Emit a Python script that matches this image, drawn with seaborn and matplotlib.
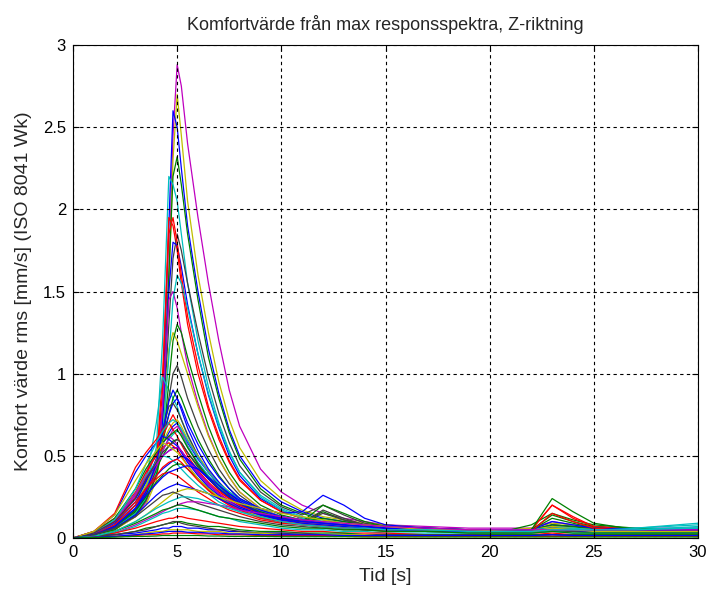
import matplotlib
matplotlib.use("Agg")
import matplotlib.pyplot as plt
import seaborn as sns
import pandas as pd

sns.set_style("white")
plt.rcParams['font.family'] = ['Liberation Sans', 'DejaVu Sans']

# time samples [s]
T = [0, 1, 2, 3, 3.5, 4, 4.3, 4.6, 4.8, 5.0, 5.2, 5.5, 6, 6.5, 7, 7.5, 8, 9, 10, 11,
     12, 13, 14, 15, 17, 19, 21, 22, 23, 24, 25, 27, 30]

# high-peak curves
h01 = [0, 0.03, 0.08, 0.18, 0.28, 0.45, 0.75, 1.6, 2.45, 2.88, 2.75, 2.4, 1.95, 1.55, 1.2, 0.9, 0.68, 0.42, 0.28, 0.2, 0.15, 0.12, 0.1, 0.08, 0.07, 0.06, 0.06, 0.06, 0.1, 0.08, 0.07, 0.06, 0.06]
h02 = [0, 0.03, 0.07, 0.16, 0.25, 0.42, 0.7, 1.5, 2.3, 2.7, 2.45, 2.05, 1.6, 1.25, 0.95, 0.72, 0.55, 0.35, 0.24, 0.17, 0.13, 0.11, 0.09, 0.08, 0.06, 0.05, 0.05, 0.06, 0.09, 0.08, 0.06, 0.05, 0.05]
h03 = [0, 0.02, 0.07, 0.17, 0.27, 0.45, 0.8, 1.9, 2.6, 2.5, 2.25, 1.9, 1.5, 1.15, 0.88, 0.66, 0.5, 0.32, 0.22, 0.16, 0.12, 0.1, 0.08, 0.07, 0.06, 0.05, 0.05, 0.05, 0.08, 0.07, 0.06, 0.05, 0.05]
h04 = [0, 0.02, 0.06, 0.15, 0.24, 0.4, 0.65, 1.6, 2.2, 2.32, 2.15, 1.85, 1.45, 1.1, 0.85, 0.64, 0.48, 0.3, 0.2, 0.15, 0.11, 0.09, 0.08, 0.07, 0.06, 0.05, 0.05, 0.08, 0.15, 0.11, 0.08, 0.06, 0.05]
h05 = [0, 0.03, 0.08, 0.2, 0.32, 0.55, 1.2, 2.2, 2.15, 2.05, 1.85, 1.55, 1.2, 0.92, 0.7, 0.53, 0.4, 0.26, 0.18, 0.13, 0.1, 0.08, 0.07, 0.06, 0.05, 0.05, 0.05, 0.05, 0.07, 0.06, 0.05, 0.05, 0.06]
h06 = [0, 0.02, 0.06, 0.15, 0.25, 0.42, 0.9, 1.95, 1.9, 1.75, 1.55, 1.3, 1.0, 0.78, 0.6, 0.46, 0.35, 0.23, 0.16, 0.12, 0.09, 0.07, 0.06, 0.05, 0.05, 0.04, 0.04, 0.05, 0.2, 0.12, 0.07, 0.05, 0.04]
h07 = [0, 0.02, 0.06, 0.15, 0.24, 0.4, 0.65, 1.3, 1.7, 1.85, 1.75, 1.55, 1.25, 0.98, 0.76, 0.58, 0.44, 0.28, 0.19, 0.14, 0.2, 0.14, 0.09, 0.07, 0.06, 0.05, 0.05, 0.05, 0.08, 0.07, 0.06, 0.05, 0.05]
h08 = [0, 0.02, 0.05, 0.14, 0.22, 0.38, 0.7, 1.5, 1.8, 1.78, 1.65, 1.42, 1.12, 0.87, 0.67, 0.5, 0.38, 0.24, 0.17, 0.12, 0.09, 0.08, 0.07, 0.06, 0.05, 0.05, 0.04, 0.05, 0.07, 0.06, 0.05, 0.05, 0.05]
h09 = [0, 0.02, 0.06, 0.16, 0.26, 0.45, 1.0, 1.85, 1.95, 1.8, 1.6, 1.35, 1.05, 0.8, 0.62, 0.47, 0.36, 0.23, 0.16, 0.12, 0.09, 0.07, 0.06, 0.05, 0.05, 0.04, 0.04, 0.04, 0.06, 0.05, 0.05, 0.04, 0.04]
h10 = [0, 0.02, 0.05, 0.13, 0.22, 0.38, 0.8, 1.45, 1.5, 1.4, 1.25, 1.05, 0.82, 0.63, 0.48, 0.37, 0.28, 0.18, 0.13, 0.1, 0.08, 0.07, 0.06, 0.05, 0.05, 0.04, 0.04, 0.04, 0.06, 0.05, 0.04, 0.04, 0.04]
h11 = [0, 0.02, 0.05, 0.13, 0.2, 0.35, 0.6, 1.15, 1.25, 1.2, 1.12, 1.0, 0.8, 0.62, 0.48, 0.37, 0.28, 0.18, 0.13, 0.1, 0.08, 0.07, 0.06, 0.05, 0.04, 0.04, 0.04, 0.04, 0.06, 0.05, 0.04, 0.04, 0.04]
h12 = [0, 0.03, 0.08, 0.2, 0.35, 0.7, 0.98, 0.9, 0.85, 0.8, 0.72, 0.62, 0.5, 0.4, 0.32, 0.25, 0.2, 0.14, 0.1, 0.08, 0.07, 0.06, 0.05, 0.05, 0.04, 0.04, 0.04, 0.04, 0.05, 0.05, 0.04, 0.04, 0.05]
h13 = [0, 0.02, 0.06, 0.15, 0.25, 0.4, 0.6, 0.85, 1.0, 1.05, 0.98, 0.85, 0.68, 0.54, 0.42, 0.33, 0.26, 0.17, 0.12, 0.09, 0.08, 0.07, 0.06, 0.05, 0.05, 0.04, 0.04, 0.04, 0.05, 0.05, 0.04, 0.04, 0.04]
h14 = [0, 0.02, 0.06, 0.16, 0.26, 0.42, 0.58, 0.75, 0.85, 0.9, 0.85, 0.75, 0.6, 0.48, 0.38, 0.3, 0.24, 0.16, 0.12, 0.1, 0.16, 0.11, 0.08, 0.06, 0.05, 0.04, 0.04, 0.05, 0.14, 0.1, 0.07, 0.05, 0.04]
h15 = [0, 0.02, 0.07, 0.18, 0.3, 0.48, 0.62, 0.75, 0.82, 0.85, 0.8, 0.7, 0.57, 0.46, 0.37, 0.3, 0.24, 0.17, 0.13, 0.11, 0.09, 0.08, 0.07, 0.06, 0.05, 0.05, 0.04, 0.05, 0.07, 0.06, 0.05, 0.05, 0.05]
h16 = [0, 0.02, 0.06, 0.15, 0.24, 0.4, 0.62, 1.1, 1.45, 1.6, 1.55, 1.4, 1.12, 0.88, 0.68, 0.52, 0.4, 0.25, 0.17, 0.12, 0.1, 0.08, 0.07, 0.06, 0.05, 0.05, 0.04, 0.05, 0.07, 0.06, 0.05, 0.05, 0.06]
h17 = [0, 0.02, 0.05, 0.14, 0.23, 0.38, 0.55, 0.95, 1.2, 1.3, 1.25, 1.1, 0.88, 0.68, 0.52, 0.4, 0.31, 0.2, 0.14, 0.11, 0.09, 0.07, 0.06, 0.05, 0.05, 0.04, 0.04, 0.04, 0.06, 0.05, 0.05, 0.04, 0.04]

# medium curves
m01 = [0, 0.03, 0.1, 0.25, 0.38, 0.52, 0.62, 0.7, 0.75, 0.7, 0.64, 0.56, 0.45, 0.36, 0.29, 0.24, 0.2, 0.15, 0.12, 0.1, 0.08, 0.07, 0.06, 0.05, 0.04, 0.04, 0.03, 0.04, 0.05, 0.05, 0.04, 0.03, 0.03]
m02 = [0, 0.03, 0.09, 0.22, 0.34, 0.48, 0.57, 0.64, 0.68, 0.7, 0.66, 0.58, 0.48, 0.4, 0.33, 0.28, 0.24, 0.18, 0.15, 0.16, 0.26, 0.2, 0.12, 0.08, 0.06, 0.05, 0.05, 0.05, 0.06, 0.05, 0.05, 0.04, 0.04]
m03 = [0, 0.02, 0.08, 0.2, 0.31, 0.45, 0.53, 0.6, 0.63, 0.65, 0.63, 0.56, 0.46, 0.38, 0.31, 0.26, 0.22, 0.16, 0.12, 0.1, 0.08, 0.07, 0.06, 0.05, 0.05, 0.04, 0.04, 0.04, 0.05, 0.05, 0.05, 0.05, 0.07]
m04 = [0, 0.03, 0.1, 0.26, 0.4, 0.52, 0.58, 0.62, 0.6, 0.57, 0.53, 0.47, 0.39, 0.32, 0.27, 0.23, 0.19, 0.14, 0.11, 0.09, 0.08, 0.07, 0.06, 0.05, 0.05, 0.04, 0.04, 0.04, 0.05, 0.05, 0.04, 0.04, 0.05]
m05 = [0, 0.02, 0.07, 0.18, 0.28, 0.42, 0.5, 0.56, 0.59, 0.6, 0.58, 0.52, 0.43, 0.36, 0.3, 0.25, 0.21, 0.15, 0.12, 0.1, 0.2, 0.15, 0.1, 0.07, 0.05, 0.04, 0.04, 0.05, 0.08, 0.07, 0.05, 0.04, 0.04]
m06 = [0, 0.02, 0.07, 0.17, 0.27, 0.45, 0.65, 0.8, 0.82, 0.78, 0.72, 0.63, 0.5, 0.4, 0.32, 0.26, 0.21, 0.15, 0.11, 0.09, 0.17, 0.12, 0.08, 0.06, 0.05, 0.04, 0.04, 0.04, 0.05, 0.05, 0.04, 0.04, 0.04]
m07 = [0, 0.02, 0.08, 0.2, 0.32, 0.47, 0.58, 0.66, 0.7, 0.72, 0.68, 0.6, 0.5, 0.41, 0.34, 0.28, 0.23, 0.17, 0.13, 0.11, 0.09, 0.08, 0.07, 0.06, 0.05, 0.05, 0.04, 0.05, 0.07, 0.06, 0.05, 0.05, 0.05]
m08 = [0, 0.03, 0.1, 0.24, 0.35, 0.45, 0.5, 0.53, 0.55, 0.55, 0.53, 0.48, 0.4, 0.33, 0.27, 0.22, 0.18, 0.13, 0.1, 0.09, 0.08, 0.07, 0.06, 0.05, 0.04, 0.04, 0.04, 0.04, 0.05, 0.04, 0.04, 0.04, 0.04]
m09 = [0, 0.04, 0.12, 0.28, 0.4, 0.5, 0.55, 0.58, 0.56, 0.54, 0.5, 0.44, 0.36, 0.29, 0.24, 0.2, 0.17, 0.13, 0.1, 0.09, 0.08, 0.07, 0.06, 0.05, 0.05, 0.04, 0.04, 0.05, 0.2, 0.13, 0.07, 0.05, 0.04]
m10 = [0, 0.03, 0.11, 0.27, 0.38, 0.46, 0.5, 0.49, 0.47, 0.45, 0.42, 0.38, 0.32, 0.27, 0.22, 0.19, 0.16, 0.12, 0.09, 0.08, 0.07, 0.06, 0.05, 0.05, 0.04, 0.04, 0.04, 0.04, 0.05, 0.05, 0.05, 0.06, 0.09]
m11 = [0, 0.02, 0.07, 0.18, 0.28, 0.43, 0.53, 0.61, 0.66, 0.68, 0.65, 0.59, 0.49, 0.4, 0.33, 0.27, 0.22, 0.16, 0.12, 0.1, 0.08, 0.07, 0.06, 0.05, 0.05, 0.04, 0.04, 0.04, 0.06, 0.05, 0.05, 0.04, 0.05]
m12 = [0, 0.02, 0.07, 0.18, 0.28, 0.45, 0.65, 0.83, 0.9, 0.85, 0.78, 0.67, 0.53, 0.42, 0.34, 0.27, 0.22, 0.15, 0.11, 0.09, 0.07, 0.06, 0.05, 0.05, 0.04, 0.04, 0.04, 0.04, 0.05, 0.05, 0.04, 0.04, 0.04]
m13 = [0, 0.02, 0.07, 0.17, 0.25, 0.34, 0.38, 0.42, 0.44, 0.45, 0.45, 0.42, 0.36, 0.3, 0.25, 0.21, 0.18, 0.13, 0.1, 0.09, 0.08, 0.07, 0.06, 0.05, 0.04, 0.04, 0.04, 0.05, 0.24, 0.16, 0.09, 0.05, 0.04]
m14 = [0, 0.03, 0.1, 0.22, 0.3, 0.36, 0.39, 0.4, 0.39, 0.38, 0.36, 0.33, 0.28, 0.24, 0.2, 0.17, 0.15, 0.11, 0.09, 0.08, 0.07, 0.06, 0.05, 0.05, 0.04, 0.04, 0.03, 0.04, 0.05, 0.04, 0.04, 0.03, 0.03]
n01 = [0, 0.04, 0.14, 0.4, 0.5, 0.58, 0.62, 0.6, 0.58, 0.56, 0.52, 0.46, 0.38, 0.31, 0.26, 0.22, 0.19, 0.14, 0.11, 0.1, 0.09, 0.08, 0.07, 0.06, 0.05, 0.05, 0.04, 0.05, 0.06, 0.05, 0.05, 0.05, 0.05]
n02 = [0, 0.04, 0.15, 0.43, 0.52, 0.6, 0.66, 0.7, 0.66, 0.62, 0.57, 0.5, 0.41, 0.34, 0.28, 0.24, 0.2, 0.15, 0.12, 0.1, 0.09, 0.08, 0.07, 0.06, 0.05, 0.05, 0.04, 0.04, 0.06, 0.05, 0.05, 0.04, 0.04]
n03 = [0, 0.03, 0.12, 0.3, 0.42, 0.52, 0.58, 0.62, 0.64, 0.66, 0.62, 0.55, 0.45, 0.37, 0.3, 0.25, 0.21, 0.16, 0.12, 0.1, 0.12, 0.1, 0.08, 0.06, 0.05, 0.04, 0.04, 0.05, 0.12, 0.09, 0.06, 0.05, 0.04]
n04 = [0, 0.03, 0.11, 0.3, 0.45, 0.58, 0.65, 0.7, 0.72, 0.7, 0.66, 0.59, 0.49, 0.4, 0.33, 0.28, 0.23, 0.17, 0.13, 0.11, 0.09, 0.08, 0.07, 0.06, 0.05, 0.05, 0.05, 0.05, 0.06, 0.06, 0.05, 0.06, 0.08]
n05 = [0, 0.03, 0.1, 0.27, 0.37, 0.45, 0.5, 0.53, 0.54, 0.55, 0.53, 0.48, 0.4, 0.33, 0.27, 0.22, 0.18, 0.13, 0.1, 0.09, 0.08, 0.07, 0.06, 0.05, 0.05, 0.04, 0.04, 0.04, 0.05, 0.05, 0.04, 0.04, 0.04]
n06 = [0, 0.03, 0.1, 0.24, 0.36, 0.46, 0.52, 0.56, 0.58, 0.6, 0.58, 0.52, 0.44, 0.36, 0.3, 0.25, 0.21, 0.15, 0.12, 0.1, 0.15, 0.11, 0.08, 0.06, 0.05, 0.04, 0.04, 0.04, 0.05, 0.05, 0.04, 0.04, 0.04]
n07 = [0, 0.04, 0.14, 0.35, 0.45, 0.53, 0.58, 0.56, 0.54, 0.52, 0.49, 0.44, 0.36, 0.3, 0.25, 0.21, 0.18, 0.13, 0.1, 0.09, 0.08, 0.07, 0.06, 0.05, 0.05, 0.04, 0.04, 0.04, 0.06, 0.05, 0.04, 0.04, 0.04]
n08 = [0, 0.02, 0.08, 0.2, 0.3, 0.38, 0.42, 0.45, 0.47, 0.48, 0.5, 0.48, 0.42, 0.36, 0.3, 0.25, 0.21, 0.15, 0.12, 0.1, 0.09, 0.08, 0.07, 0.06, 0.05, 0.05, 0.04, 0.05, 0.1, 0.08, 0.06, 0.05, 0.04]
n09 = [0, 0.02, 0.08, 0.2, 0.3, 0.38, 0.43, 0.46, 0.47, 0.48, 0.46, 0.42, 0.35, 0.29, 0.24, 0.2, 0.17, 0.12, 0.1, 0.08, 0.07, 0.06, 0.05, 0.05, 0.04, 0.04, 0.04, 0.04, 0.15, 0.1, 0.06, 0.04, 0.04]
n10 = [0, 0.02, 0.07, 0.18, 0.26, 0.33, 0.37, 0.4, 0.41, 0.42, 0.43, 0.44, 0.42, 0.37, 0.32, 0.27, 0.23, 0.17, 0.13, 0.11, 0.09, 0.08, 0.07, 0.06, 0.05, 0.05, 0.04, 0.04, 0.05, 0.05, 0.04, 0.04, 0.04]

# low / broad curves
l01 = [0, 0.02, 0.06, 0.14, 0.2, 0.26, 0.29, 0.31, 0.32, 0.33, 0.32, 0.31, 0.29, 0.27, 0.24, 0.21, 0.18, 0.14, 0.11, 0.09, 0.08, 0.07, 0.06, 0.05, 0.04, 0.04, 0.04, 0.04, 0.05, 0.04, 0.04, 0.04, 0.04]
l02 = [0, 0.01, 0.04, 0.1, 0.14, 0.19, 0.22, 0.25, 0.27, 0.28, 0.29, 0.3, 0.29, 0.27, 0.25, 0.23, 0.21, 0.18, 0.15, 0.13, 0.11, 0.09, 0.08, 0.07, 0.05, 0.05, 0.04, 0.04, 0.05, 0.05, 0.04, 0.04, 0.04]
l03 = [0, 0.02, 0.06, 0.13, 0.18, 0.23, 0.26, 0.27, 0.28, 0.27, 0.26, 0.24, 0.21, 0.19, 0.17, 0.15, 0.13, 0.1, 0.08, 0.07, 0.06, 0.05, 0.05, 0.04, 0.04, 0.03, 0.03, 0.03, 0.04, 0.04, 0.03, 0.03, 0.03]
l04 = [0, 0.01, 0.03, 0.08, 0.11, 0.14, 0.16, 0.18, 0.19, 0.2, 0.21, 0.22, 0.22, 0.21, 0.2, 0.19, 0.17, 0.15, 0.13, 0.11, 0.1, 0.09, 0.08, 0.07, 0.06, 0.05, 0.05, 0.05, 0.05, 0.05, 0.05, 0.05, 0.05]
l05 = [0, 0.01, 0.03, 0.07, 0.1, 0.13, 0.15, 0.16, 0.17, 0.18, 0.18, 0.18, 0.17, 0.15, 0.13, 0.12, 0.1, 0.08, 0.06, 0.05, 0.05, 0.04, 0.04, 0.03, 0.03, 0.03, 0.03, 0.03, 0.04, 0.03, 0.03, 0.03, 0.03]
l06 = [0, 0.01, 0.03, 0.06, 0.08, 0.1, 0.11, 0.12, 0.12, 0.13, 0.13, 0.12, 0.11, 0.1, 0.09, 0.08, 0.07, 0.06, 0.05, 0.04, 0.04, 0.03, 0.03, 0.03, 0.02, 0.02, 0.02, 0.02, 0.03, 0.02, 0.02, 0.02, 0.02]
l07 = [0, 0.01, 0.02, 0.04, 0.06, 0.07, 0.08, 0.09, 0.09, 0.1, 0.1, 0.09, 0.08, 0.07, 0.07, 0.06, 0.05, 0.04, 0.04, 0.03, 0.03, 0.03, 0.02, 0.02, 0.02, 0.02, 0.02, 0.02, 0.02, 0.02, 0.02, 0.02, 0.02]
l08 = [0, 0.01, 0.02, 0.03, 0.04, 0.05, 0.06, 0.06, 0.07, 0.07, 0.07, 0.06, 0.06, 0.05, 0.05, 0.04, 0.04, 0.03, 0.03, 0.02, 0.02, 0.02, 0.02, 0.02, 0.01, 0.01, 0.01, 0.01, 0.02, 0.01, 0.01, 0.01, 0.01]
l09 = [0, 0.01, 0.02, 0.04, 0.05, 0.07, 0.08, 0.09, 0.1, 0.1, 0.09, 0.08, 0.07, 0.06, 0.05, 0.05, 0.04, 0.03, 0.03, 0.03, 0.02, 0.02, 0.02, 0.02, 0.02, 0.02, 0.01, 0.01, 0.02, 0.02, 0.01, 0.01, 0.01]
l10 = [0, 0.005, 0.01, 0.02, 0.03, 0.04, 0.04, 0.05, 0.05, 0.05, 0.05, 0.05, 0.04, 0.04, 0.04, 0.03, 0.03, 0.03, 0.02, 0.02, 0.02, 0.02, 0.02, 0.01, 0.01, 0.01, 0.01, 0.01, 0.01, 0.01, 0.01, 0.01, 0.01]
l11 = [0, 0.01, 0.04, 0.09, 0.12, 0.15, 0.17, 0.18, 0.19, 0.2, 0.2, 0.19, 0.17, 0.15, 0.13, 0.12, 0.11, 0.09, 0.07, 0.06, 0.06, 0.05, 0.05, 0.04, 0.04, 0.03, 0.03, 0.03, 0.04, 0.03, 0.03, 0.03, 0.03]
l12 = [0, 0.01, 0.04, 0.1, 0.14, 0.18, 0.2, 0.22, 0.23, 0.24, 0.25, 0.25, 0.24, 0.22, 0.2, 0.18, 0.16, 0.13, 0.1, 0.08, 0.07, 0.06, 0.06, 0.05, 0.05, 0.04, 0.04, 0.04, 0.05, 0.05, 0.05, 0.05, 0.06]
z01 = [0, 0.005, 0.01, 0.015, 0.02, 0.02, 0.025, 0.025, 0.03, 0.03, 0.03, 0.03, 0.025, 0.025, 0.02, 0.02, 0.02, 0.015, 0.015, 0.015, 0.015, 0.01, 0.01, 0.01, 0.01, 0.01, 0.01, 0.01, 0.01, 0.01, 0.01, 0.01, 0.01]
z02 = [0, 0.005, 0.01, 0.02, 0.025, 0.03, 0.035, 0.04, 0.04, 0.04, 0.04, 0.035, 0.035, 0.03, 0.03, 0.025, 0.025, 0.02, 0.02, 0.02, 0.02, 0.015, 0.015, 0.015, 0.015, 0.015, 0.015, 0.015, 0.02, 0.015, 0.015, 0.015, 0.015]
z03 = [0, 0.003, 0.005, 0.01, 0.01, 0.012, 0.015, 0.015, 0.015, 0.015, 0.015, 0.015, 0.015, 0.012, 0.012, 0.01, 0.01, 0.01, 0.008, 0.008, 0.008, 0.008, 0.006, 0.006, 0.006, 0.006, 0.006, 0.006, 0.006, 0.006, 0.006, 0.006, 0.006]

curves = {
    "h01": h01, "h02": h02, "h03": h03, "h04": h04, "h05": h05, "h06": h06,
    "h07": h07, "h08": h08, "h09": h09, "h10": h10, "h11": h11, "h12": h12,
    "h13": h13, "h14": h14, "h15": h15, "h16": h16, "h17": h17,
    "m01": m01, "m02": m02, "m03": m03, "m04": m04, "m05": m05, "m06": m06,
    "m07": m07, "m08": m08, "m09": m09, "m10": m10, "m11": m11, "m12": m12,
    "m13": m13, "m14": m14,
    "n01": n01, "n02": n02, "n03": n03, "n04": n04, "n05": n05, "n06": n06,
    "n07": n07, "n08": n08, "n09": n09, "n10": n10,
    "l01": l01, "l02": l02, "l03": l03, "l04": l04, "l05": l05, "l06": l06,
    "l07": l07, "l08": l08, "l09": l09, "l10": l10, "l11": l11, "l12": l12,
    "z01": z01, "z02": z02, "z03": z03,
}

# MATLAB classic colour order
MB, MG, MR, MC, MM, MY, MK = "#0000ff", "#008000", "#ff0000", "#00bfbf", "#bf00bf", "#bfbf00", "#404040"
curve_colors = {
    "h01": MM, "h02": MY, "h03": MB, "h04": MG, "h05": MC, "h06": MR, "h07": MK,
    "h08": MB, "h09": MR, "h10": MM, "h11": MY, "h12": MC, "h13": MK, "h14": MG,
    "h15": MB, "h16": MC, "h17": MG,
    "m01": MR, "m02": MB, "m03": MC, "m04": MM, "m05": MG, "m06": MK, "m07": MY,
    "m08": MB, "m09": MR, "m10": MC, "m11": MM, "m12": MB, "m13": MG, "m14": MR,
    "n01": MB, "n02": MR, "n03": MG, "n04": MC, "n05": MM, "n06": MK, "n07": MY,
    "n08": MB, "n09": MR, "n10": MB,
    "l01": MB, "l02": MY, "l03": MK, "l04": MM, "l05": MC, "l06": MR, "l07": MG,
    "l08": MB, "l09": MK, "l10": MY, "l11": MG, "l12": MC,
    "z01": MR, "z02": MB, "z03": MG,
}

rows = []
for name, vals in curves.items():
    for t, v in zip(T, vals):
        rows.append({"t": t, "v": v, "curve": name})
df = pd.DataFrame(rows)

fig = plt.figure(figsize=(7.07, 5.90), dpi=100)
ax = fig.add_axes([73 / 707, 1 - 538 / 590, (698 - 73) / 707, (538 - 45) / 590])

sns.lineplot(data=df, x="t", y="v", hue="curve", hue_order=list(curves.keys()),
             palette=curve_colors, estimator=None, legend=False, lw=0.9, ax=ax)

ax.set_xlim(0, 30)
ax.set_ylim(0, 3)
ax.set_xticks([0, 5, 10, 15, 20, 25, 30])
ax.set_yticks([0, 0.5, 1, 1.5, 2, 2.5, 3])
ax.set_yticklabels(["0", "0.5", "1", "1.5", "2", "2.5", "3"])
ax.grid(True, color="black", linestyle=(0, (3, 3)), linewidth=0.8)
ax.set_axisbelow(False)
for gl in ax.get_xgridlines() + ax.get_ygridlines():
    gl.set_zorder(5)
for sp in ax.spines.values():
    sp.set_color("black")
    sp.set_linewidth(0.8)
ax.tick_params(direction="in", length=4, width=0.8, labelsize=12, colors="black",
               top=True, right=True, bottom=True, left=True, pad=5)
ax.set_xlabel("Tid [s]", fontsize=14, labelpad=6)
ax.set_ylabel("Komfort värde rms [mm/s] (ISO 8041 Wk)", fontsize=14, labelpad=8)
ax.set_title("Komfortvärde från max responsspektra, Z-riktning", fontsize=13, pad=11)

fig.savefig("out.png", dpi=100)
